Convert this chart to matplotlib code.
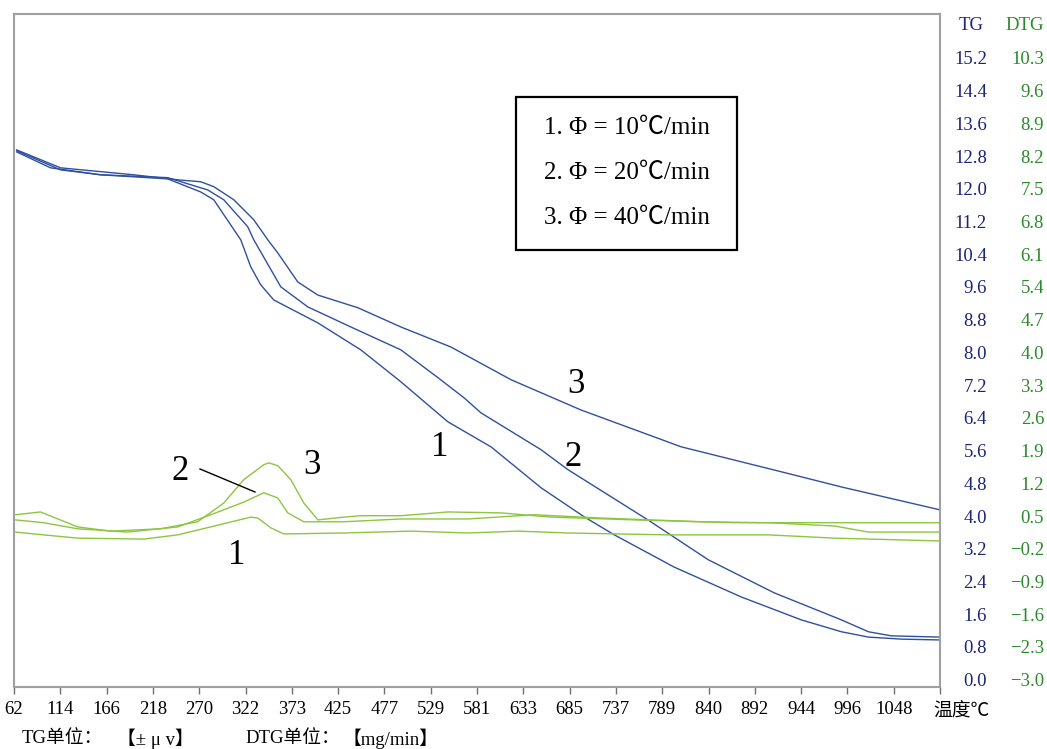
import matplotlib
matplotlib.use('Agg')
import matplotlib.pyplot as plt
import numpy as np
from matplotlib.transforms import blended_transform_factory
from matplotlib.patches import Rectangle
from matplotlib.lines import Line2D

W, H = 1047, 749
plt.rcParams['font.family'] = ['Liberation Serif', 'Noto Sans CJK SC', 'DejaVu Sans']

# ---------------- data ----------------
x_tick_labels = ['62', '114', '166', '218', '270', '322', '373', '425', '477', '529',
                 '581', '633', '685', '737', '789', '840', '892', '944', '996', '1048']
tg_labels = ['0.0', '0.8', '1.6', '2.4', '3.2', '4.0', '4.8', '5.6', '6.4', '7.2',
             '8.0', '8.8', '9.6', '10.4', '11.2', '12.0', '12.8', '13.6', '14.4', '15.2']
dtg_labels = ['\u22123.0', '\u22122.3', '\u22121.6', '\u22120.9', '\u22120.2', '0.5', '1.2', '1.9',
              '2.6', '3.3', '4.0', '4.7', '5.4', '6.1', '6.8', '7.5', '8.2', '8.9', '9.6', '10.3']

# TG curves (temperature in deg C, TG value)
tg1_t = [64.8, 103.0, 159.1, 234.3, 271.3, 285.9, 316.2, 327.4, 338.6, 353.2, 402.6, 450.8,
         495.7, 532.8, 548.5, 596.7, 652.8, 701.1, 734.8, 802.1, 877.3, 944.6, 989.5, 1019.8,
         1056.8, 1100]
tg1_v = [12.95, 12.56, 12.39, 12.29, 11.97, 11.78, 10.80, 10.14, 9.70, 9.33, 8.77, 8.11,
         7.33, 6.64, 6.35, 5.74, 4.74, 4.03, 3.59, 2.80, 2.07, 1.51, 1.22, 1.09, 1.04, 1.02]

tg2_t = [64.8, 114.2, 159.1, 234.3, 279.1, 297.1, 324.0, 330.8, 361.1, 391.4, 439.6, 495.7,
         537.3, 566.4, 585.5, 652.8, 683.1, 772.9, 840.2, 914.3, 989.5, 1019.8, 1045.6, 1100]
tg2_v = [12.98, 12.51, 12.39, 12.32, 12.02, 11.78, 11.12, 10.80, 9.65, 9.16, 8.67, 8.11,
         7.43, 6.94, 6.57, 5.67, 5.18, 3.95, 2.98, 2.17, 1.51, 1.22, 1.12, 1.09]

tg3_t = [64.8, 114.2, 196.1, 248.8, 271.3, 285.9, 308.3, 330.8, 346.5, 357.7, 380.1, 402.6,
         447.5, 495.7, 551.8, 619.2, 697.7, 810.0, 922.2, 989.5, 1100]
tg3_v = [13.00, 12.56, 12.39, 12.26, 12.22, 12.10, 11.78, 11.29, 10.80, 10.48, 9.77, 9.45,
         9.14, 8.67, 8.18, 7.38, 6.64, 5.74, 5.13, 4.76, 4.20]

# DTG curves (temperature in deg C, DTG value in mg/min)
dtg1_t = [63.7, 95.1, 133.3, 207.3, 245.5, 282.5, 327.4, 335.3, 349.9, 364.4, 431.8, 506.9,
          570.9, 627.0, 683.1, 795.4, 907.6, 981.6, 1100]
dtg1_v = [0.20, 0.14, 0.07, 0.05, 0.14, 0.31, 0.52, 0.50, 0.29, 0.16, 0.18, 0.22,
          0.18, 0.22, 0.18, 0.14, 0.14, 0.07, 0.01]

dtg2_t = [63.7, 95.1, 133.3, 189.4, 245.5, 282.5, 319.5, 342.0, 357.7, 368.9, 386.9, 431.8,
          495.7, 570.9, 645.0, 720.2, 832.4, 907.6, 981.6, 1019.8, 1100]
dtg2_v = [0.46, 0.40, 0.27, 0.20, 0.31, 0.57, 0.84, 1.04, 0.93, 0.61, 0.42, 0.42,
          0.48, 0.48, 0.57, 0.50, 0.42, 0.40, 0.33, 0.20, 0.20]

dtg3_t = [63.7, 91.7, 133.3, 170.3, 226.4, 267.9, 297.1, 319.5, 342.0, 347.6, 357.7, 372.3,
          386.9, 402.6, 431.8, 450.8, 495.7, 548.5, 608.0, 664.1, 757.2, 869.4, 981.6, 1100]
dtg3_v = [0.57, 0.63, 0.31, 0.22, 0.27, 0.42, 0.82, 1.32, 1.64, 1.68, 1.62, 1.32,
          0.82, 0.46, 0.52, 0.55, 0.55, 0.63, 0.61, 0.52, 0.46, 0.40, 0.40, 0.40]

legend_lines = ['1. \u03a6 = 10\u2103/min', '2. \u03a6 = 20\u2103/min', '3. \u03a6 = 40\u2103/min']

# ---------------- layout helpers ----------------
def fx(x):
    return x / W

def fy(y):
    return 1 - y / H

BLUE = '#2f50a0'
GREEN = '#8cc63f'
NAVY = '#1c2478'
DGREEN = '#2a8a2a'
GRAY = '#a0a0a0'

fig = plt.figure(figsize=(W / 100, H / 100), dpi=100)
fig.patch.set_facecolor('white')
L, R, T, B = 14, 940, 14, 687
ax = fig.add_axes([fx(L), fy(B), (R - L) / W, (B - T) / H])
TG_LO, TG_HI = -0.13, 16.32
ax.set_xlim(62, 1100)
ax.set_ylim(TG_LO, TG_HI)
ax2 = ax.twinx()
ax2.set_ylim(-3 + 0.875 * TG_LO, -3 + 0.875 * TG_HI)
ax2.axis('off')

for s in ax.spines.values():
    s.set_color(GRAY)
    s.set_linewidth(1.5)

kw = dict(lw=1.0, solid_joinstyle='round', solid_capstyle='round')
ax.plot(tg1_t, tg1_v, color=BLUE, **kw)
ax.plot(tg2_t, tg2_v, color=BLUE, **kw)
ax.plot(tg3_t, tg3_v, color=BLUE, **kw)
ax2.plot(dtg1_t, dtg1_v, color=GREEN, **kw)
ax2.plot(dtg2_t, dtg2_v, color=GREEN, **kw)
ax2.plot(dtg3_t, dtg3_v, color=GREEN, **kw)

step = (1100 - 62) / 20
ax.set_xticks([62 + i * step for i in range(21)])
ax.set_xticklabels(x_tick_labels + [''])
ax.tick_params(axis='x', direction='out', length=5, width=1, color='#707070',
               pad=5, labelsize=13.5)
ax.set_yticks([])

fig.text(fx(933), fy(711), '温度\u2103', ha='left', va='center', fontsize=13.5,
         family=['Noto Sans CJK SC', 'DejaVu Sans'])

# right-side value labels
tr = blended_transform_factory(fig.transFigure, ax.transData)
for lab_tg, lab_dtg in zip(tg_labels, dtg_labels):
    v = float(lab_tg)
    ax.text(fx(987), v, lab_tg, transform=tr, ha='right', va='center',
            fontsize=13.5, color=NAVY)
    ax.text(fx(1044), v, lab_dtg, transform=tr, ha='right', va='center',
            fontsize=13.5, color=DGREEN)
fig.text(fx(984), fy(26), 'TG', ha='right', va='center', fontsize=13.5, color=NAVY)
fig.text(fx(1044), fy(26), 'DTG', ha='right', va='center', fontsize=13.5, color=DGREEN)

# legend box
fig.add_artist(Rectangle((fx(516), fy(250)), fx(737) - fx(516), fy(97) - fy(250),
                         transform=fig.transFigure, fill=False, edgecolor='black', lw=1.6))
for i, line in enumerate(legend_lines):
    fig.text(fx(627), fy(128 + 45 * i), line, ha='center', va='center', fontsize=18)

# curve number labels
for (px, py, s) in [(180, 471, '2'), (312, 466, '3'), (237, 556, '1'),
                    (440, 448, '1'), (573, 458, '2'), (576, 384, '3')]:
    fig.text(fx(px), fy(py), s, ha='center', va='center', fontsize=25)
fig.add_artist(Line2D([fx(200), fx(255)], [fy(469), fy(492)], transform=fig.transFigure,
                      color='black', lw=1.0))

# unit notes
fig.text(fx(22), fy(739), 'TG单位：', ha='left', va='center', fontsize=13.5)
fig.text(fx(117), fy(739), '【± μ v】', ha='left', va='center', fontsize=13.5)
fig.text(fx(245), fy(739), 'DTG单位：', ha='left', va='center', fontsize=13.5)
fig.text(fx(343), fy(739), '【mg/min】', ha='left', va='center', fontsize=13.5)

fig.savefig('out.png', dpi=100, facecolor='white')
